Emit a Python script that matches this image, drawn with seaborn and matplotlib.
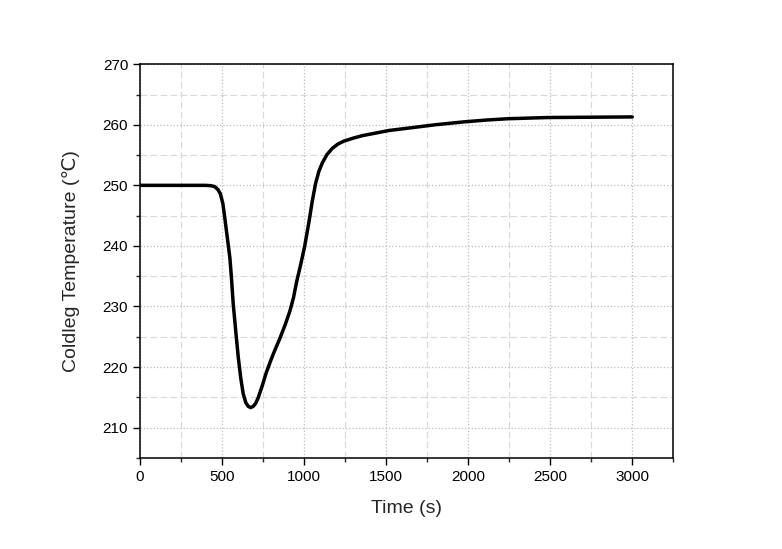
import numpy as np
import pandas as pd
import matplotlib
matplotlib.use('Agg')
import matplotlib.pyplot as plt
import seaborn as sns
from matplotlib.ticker import MultipleLocator

# values
time_s = [0, 200, 400, 430, 455, 475, 490, 505, 517, 532, 548, 558, 568, 584, 599,
          614, 629, 645, 660, 674, 690, 705, 720, 745, 771, 810, 852, 885, 913, 935,
          954, 980, 1004, 1030, 1050, 1070, 1090, 1111, 1140, 1172, 1205, 1242, 1300,
          1354, 1430, 1515, 1650, 1798, 1980, 2120, 2242, 2485, 2750, 3000]
temp_c = [250.0, 250.0, 250.0, 249.95, 249.8, 249.3, 248.6, 247.0, 244.6, 241.4, 238.0,
          234.5, 230.5, 225.8, 221.6, 218.2, 215.6, 214.1, 213.5, 213.3, 213.5, 214.0,
          214.9, 216.9, 219.2, 222.0, 224.7, 227.0, 229.2, 231.4, 234.0, 237.0, 240.0,
          244.0, 247.4, 250.3, 252.3, 253.7, 255.1, 256.1, 256.8, 257.3, 257.8, 258.2,
          258.6, 259.05, 259.5, 260.0, 260.5, 260.8, 261.0, 261.2, 261.25, 261.3]

df = pd.DataFrame({'Time (s)': time_s, 'Temp': temp_c})

sns.set_style('ticks')
plt.rcParams['font.family'] = ['Liberation Sans', 'DejaVu Sans']

fig = plt.figure(figsize=(7.82, 5.49), dpi=100)
ax = fig.add_axes([0.179, 0.166, 0.682, 0.717])

sns.lineplot(data=df, x='Time (s)', y='Temp', ax=ax, color='black', linewidth=2.5)

ax.set_xlim(0, 3250)
ax.set_ylim(205, 270)
ax.xaxis.set_major_locator(MultipleLocator(500))
ax.xaxis.set_minor_locator(MultipleLocator(250))
ax.yaxis.set_major_locator(MultipleLocator(10))
ax.yaxis.set_minor_locator(MultipleLocator(5))

ax.grid(which='major', color='#bdbdbd', linestyle=':', linewidth=0.9)
ax.grid(which='minor', color='#d9d9d9', linestyle='--', linewidth=0.8, dashes=(6, 3))
ax.set_axisbelow(True)

for s in ax.spines.values():
    s.set_linewidth(1.1)
    s.set_color('black')

ax.tick_params(which='major', direction='out', length=5, width=1, labelsize=11, colors='black')
ax.tick_params(which='minor', direction='out', length=3, width=1)

ax.set_xlabel('Time (s)', fontsize=14, labelpad=12)
ax.set_ylabel('Coldleg Temperature (\u2103)', fontsize=14, labelpad=16)

fig.savefig('out.png', dpi=100)
